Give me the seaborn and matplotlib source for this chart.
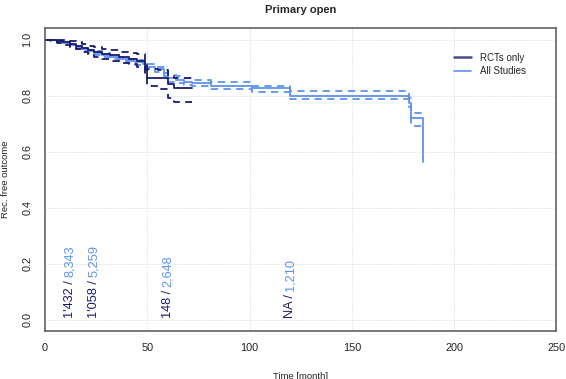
import numpy as np
import pandas as pd
import matplotlib
matplotlib.use("Agg")
import matplotlib.pyplot as plt
from matplotlib.lines import Line2D
import seaborn as sns

# Kaplan-Meier style step data
rct_time = [0, 3, 6, 9, 12, 15, 18, 21, 24, 28, 32, 36, 41, 45, 49, 50, 55, 60, 63, 72]
rct_surv = [1.0, 0.998, 0.995, 0.99, 0.985, 0.978, 0.97, 0.962, 0.955, 0.948, 0.943, 0.937, 0.932, 0.925, 0.89, 0.862, 0.862, 0.842, 0.827, 0.827]
rct_upper = [1.0, 1.0, 0.999, 0.997, 0.994, 0.99, 0.984, 0.978, 0.972, 0.966, 0.961, 0.956, 0.952, 0.947, 0.915, 0.893, 0.89, 0.875, 0.863, 0.863]
rct_lower = [1.0, 0.994, 0.988, 0.981, 0.974, 0.965, 0.955, 0.946, 0.937, 0.929, 0.923, 0.916, 0.911, 0.903, 0.865, 0.835, 0.824, 0.79, 0.777, 0.777]

all_time = [0, 3, 6, 9, 12, 15, 18, 21, 24, 28, 32, 36, 40, 44, 48, 50, 54, 58, 60, 64, 68, 72, 81, 101, 120, 178, 179, 185]
all_surv = [1.0, 0.997, 0.993, 0.987, 0.98, 0.972, 0.965, 0.958, 0.951, 0.944, 0.937, 0.93, 0.924, 0.918, 0.911, 0.902, 0.893, 0.88, 0.862, 0.855, 0.85, 0.845, 0.835, 0.828, 0.80, 0.775, 0.718, 0.563]
all_upper = [1.0, 0.999, 0.996, 0.991, 0.985, 0.978, 0.971, 0.964, 0.958, 0.951, 0.944, 0.938, 0.932, 0.926, 0.92, 0.912, 0.903, 0.891, 0.874, 0.868, 0.863, 0.857, 0.847, 0.835, 0.815, 0.79, 0.738, 0.738]
all_lower = [1.0, 0.995, 0.99, 0.983, 0.975, 0.966, 0.959, 0.952, 0.944, 0.937, 0.93, 0.922, 0.916, 0.91, 0.902, 0.892, 0.883, 0.869, 0.85, 0.843, 0.837, 0.833, 0.823, 0.812, 0.786, 0.76, 0.69, 0.69]

# numbers at risk
risk_times = [12, 24, 60, 120]
risk_rct = ["1'432", "1'058", "148", "NA"]
risk_all = ["8,343", "5,259", "2,648", "1,210"]

navy = "#1b1b6e"
blue = "#5f92ec"

sns.set_style("white")
plt.rcParams['font.family'] = ['Liberation Sans', 'DejaVu Sans']

fig = plt.figure(figsize=(5.66, 3.79), dpi=100)
ax = fig.add_axes([0.0795, 0.1274, 0.9035, 0.7979])

for t, s, up, lo, col in [(all_time, all_surv, all_upper, all_lower, blue),
                          (rct_time, rct_surv, rct_upper, rct_lower, navy)]:
    sns.lineplot(x=t, y=s, ax=ax, color=col, lw=1.3, drawstyle='steps-post',
                 estimator=None, sort=False)
    for ci in (up, lo):
        sns.lineplot(x=t, y=ci, ax=ax, color=col, lw=1.3, drawstyle='steps-post',
                     estimator=None, sort=False, linestyle=(0, (4, 3)))

ax.set_xlim(0, 250)
ax.set_ylim(-0.04, 1.04)
ax.set_xticks([0, 50, 100, 150, 200, 250])
ax.set_yticks([0.0, 0.2, 0.4, 0.6, 0.8, 1.0])
ax.set_yticklabels(["0.0", "0.2", "0.4", "0.6", "0.8", "1.0"], rotation=90, va='center')
ax.set_xticks(risk_times, minor=True)
ax.tick_params(which='major', direction='out', length=4.5, width=0.9, color='#444444',
               labelsize=7.8, pad=4.5, labelcolor='#222222')
ax.tick_params(which='minor', axis='x', direction='in', length=4.5, width=0.9, color='#444444')

for x in [50, 100, 150, 200]:
    ax.axvline(x, color='#d9d9d9', lw=0.7, ls=(0, (1, 1.5)), zorder=0)
for y in [0.0, 0.2, 0.4, 0.6, 0.8, 1.0]:
    ax.axhline(y, color='#d9d9d9', lw=0.7, ls=(0, (1, 1.5)), zorder=0)

for sp in ax.spines.values():
    sp.set_color('#555555')
    sp.set_linewidth(1.1)

ax.set_title("Primary open", fontsize=8, fontweight='bold', pad=11)
ax.set_xlabel("Time [month]", fontsize=6.8, color='#222222')
ax.set_ylabel("Rec. free outcome", fontsize=6.8, color='#222222')
ax.xaxis.set_label_coords(0.5, -0.135)
ax.yaxis.set_label_coords(-0.068, 0.5)

handles = [Line2D([], [], color='#4a4a8a', lw=1.8), Line2D([], [], color=blue, lw=1.2)]
ax.legend(handles, ["RCTs only", "All Studies"], loc='upper left', bbox_to_anchor=(0.79, 0.935),
          frameon=False, fontsize=7, handlelength=1.75, handletextpad=0.9, borderpad=0,
          labelspacing=0.35)

# numbers at risk, two colours in one rotated label
first = []
for x, r in zip(risk_times, risk_rct):
    first.append(ax.text(x, 0.006, r + " /", rotation=90, ha='center', va='bottom',
                         fontsize=9.2, color=navy))
fig.canvas.draw()
renderer = fig.canvas.get_renderer()
inv = ax.transData.inverted()
for txt, x, a in zip(first, risk_times, risk_all):
    bb = txt.get_window_extent(renderer)
    ytop = inv.transform((bb.x0, bb.y1 + 3))[1]
    ax.text(x, ytop, a, rotation=90, ha='center', va='bottom', fontsize=9.2, color=blue)

fig.savefig("out.png", dpi=100)
